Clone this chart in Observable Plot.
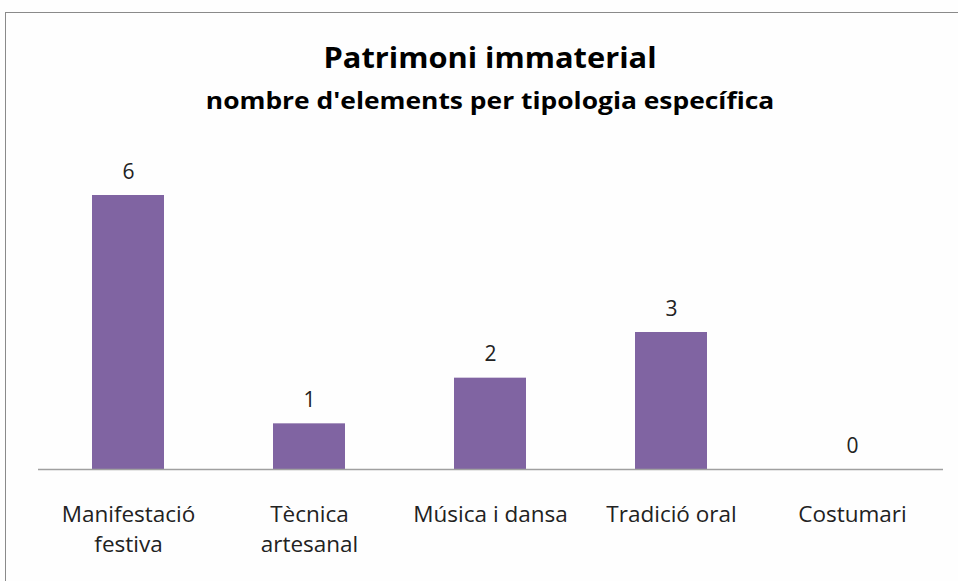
<!DOCTYPE html>
<html>
<head>
<meta charset="utf-8">
<script src="https://cdn.jsdelivr.net/npm/d3@7"></script>
<script src="https://cdn.jsdelivr.net/npm/@observablehq/plot@0.6"></script>
<style>
  body { margin: 0; background: #fff; }
  #wrap { position: relative; width: 958px; height: 581px; overflow: hidden; font-family: "Open Sans", sans-serif; background: #fefefe; }
  #frame { position: absolute; left: 5px; top: 12px; width: 970px; height: 600px; border: 1.5px solid #8a8a8a; box-sizing: border-box; }
  #title { position: absolute; left: 0; width: 980px; top: 37px; line-height: 40px; text-align: center; font-weight: bold; font-size: 28px; color: #000; transform: scaleX(1.1); transform-origin: 490px 0; }
  #subtitle { position: absolute; left: 0; width: 980px; top: 83px; line-height: 34px; text-align: center; font-weight: bold; font-size: 24px; color: #000; transform: scaleX(1.1); transform-origin: 490px 0; }
  #chart { position: absolute; left: 0; top: 150px; }
</style>
</head>
<body>
<div id="wrap">
  <div id="frame"></div>
  <div id="title">Patrimoni immaterial</div>
  <div id="subtitle">nombre d'elements per tipologia específica</div>
  <div id="chart"></div>
</div>
<script>
const categories = ["Manifestació\nfestiva", "Tècnica\nartesanal", "Música i dansa", "Tradició oral", "Costumari"];
const values = [6, 1, 2, 3, 0];

const data = categories.map((c, i) => ({category: c, value: values[i]}));

const plot = Plot.plot({
  width: 958,
  height: 431,
  marginLeft: 38,
  marginRight: 15,
  marginTop: 45,
  marginBottom: 112,
  style: {fontFamily: "'Open Sans', sans-serif", background: "transparent"},
  x: {domain: categories, paddingInner: 0.6, paddingOuter: 0.3, label: null},
  y: {domain: [0, 6], axis: null},
  marks: [
    Plot.barY(data, {x: "category", y: "value", fill: "#8064A2"}),
    Plot.ruleY([0], {stroke: "#a0a0a0", strokeWidth: 1.5}),
    Plot.text(data, {x: "category", y: "value", text: d => String(d.value), lineAnchor: "bottom", dy: -17, fontSize: 21, fill: "#222"}),
    Plot.axisX({tickSize: 0, tickPadding: 31, fontSize: 22.5, lineHeight: 1.33, lineAnchor: "top", fill: "#222", label: null})
  ]
});
document.getElementById("chart").appendChild(plot);
</script>
</body>
</html>
